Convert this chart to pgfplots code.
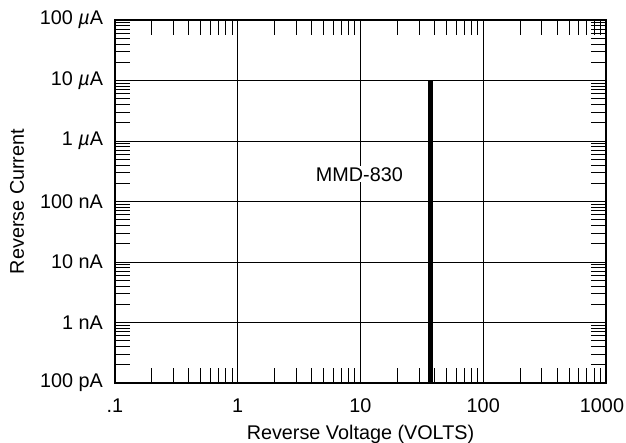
\documentclass[border=0pt]{standalone}
\usepackage{pgfplots}
\pgfplotsset{compat=1.18}
\usepackage{fontspec}
\setmainfont{Liberation Sans}
\begin{document}
\begin{tikzpicture}[font=\fontsize{19.8bp}{23bp}\selectfont]
\begin{axis}[
  name=ax,
  xmode=log, ymode=log,
  scale only axis,
  width=491bp, height=363bp,
  xmin=0.1, xmax=1000, ymin=1e-10, ymax=1e-4,
  xtick={0.1,1,10,100,1000},
  xticklabels={.1,1,10,100,\kern-8bp 1000},
  ytick={1e-10,1e-9,1e-8,1e-7,1e-6,1e-5,1e-4},
  yticklabels={100 pA,1 nA,10 nA,100 nA,1 {\itshape µ}A,10 {\itshape µ}A,100 {\itshape µ}A},
  minor xtick={0.2,0.3,0.4,0.5,0.6,0.7,0.8,0.9,2,3,4,5,6,7,8,9,20,30,40,50,60,70,80,90,200,300,400,500,600,700,800,900},
  minor ytick={2e-10,3e-10,4e-10,5e-10,6e-10,7e-10,8e-10,9e-10,2e-9,3e-9,4e-9,5e-9,6e-9,7e-9,8e-9,9e-9,2e-8,3e-8,4e-8,5e-8,6e-8,7e-8,8e-8,9e-8,2e-7,3e-7,4e-7,5e-7,6e-7,7e-7,8e-7,9e-7,2e-6,3e-6,4e-6,5e-6,6e-6,7e-6,8e-6,9e-6,2e-5,3e-5,4e-5,5e-5,6e-5,7e-5,8e-5,9e-5},
  tick align=inside,
  major tick length=0pt,
  minor tick length=15bp,
  minor tick style={black, line width=1bp},
  xmajorgrids, ymajorgrids,
  major grid style={black, line width=1bp},
  axis line style={black, line width=1.8bp},
  xticklabel style={yshift=-12bp},
  yticklabel style={xshift=-8.5bp},
  xlabel={Reverse Voltage (VOLTS)},
  ylabel={Reverse Current},
  xlabel style={at={(axis description cs:0.5,-0.157)}, anchor=base},
  ylabel style={at={(axis description cs:-0.1996,0.5)}, anchor=center},
  clip=false,
]
\addplot[black, line width=5bp] coordinates {(37,1e-10) (37,1e-5)};
\node[fill=white, inner sep=1bp] at (axis cs:9.8,2.8e-7) {MMD-830};
\end{axis}
\pgfresetboundingbox
\path[use as bounding box] ([xshift=-115bp,yshift=-60bp]ax.south west) rectangle ([xshift=20bp,yshift=20bp]ax.north east);
\end{tikzpicture}
\end{document}
